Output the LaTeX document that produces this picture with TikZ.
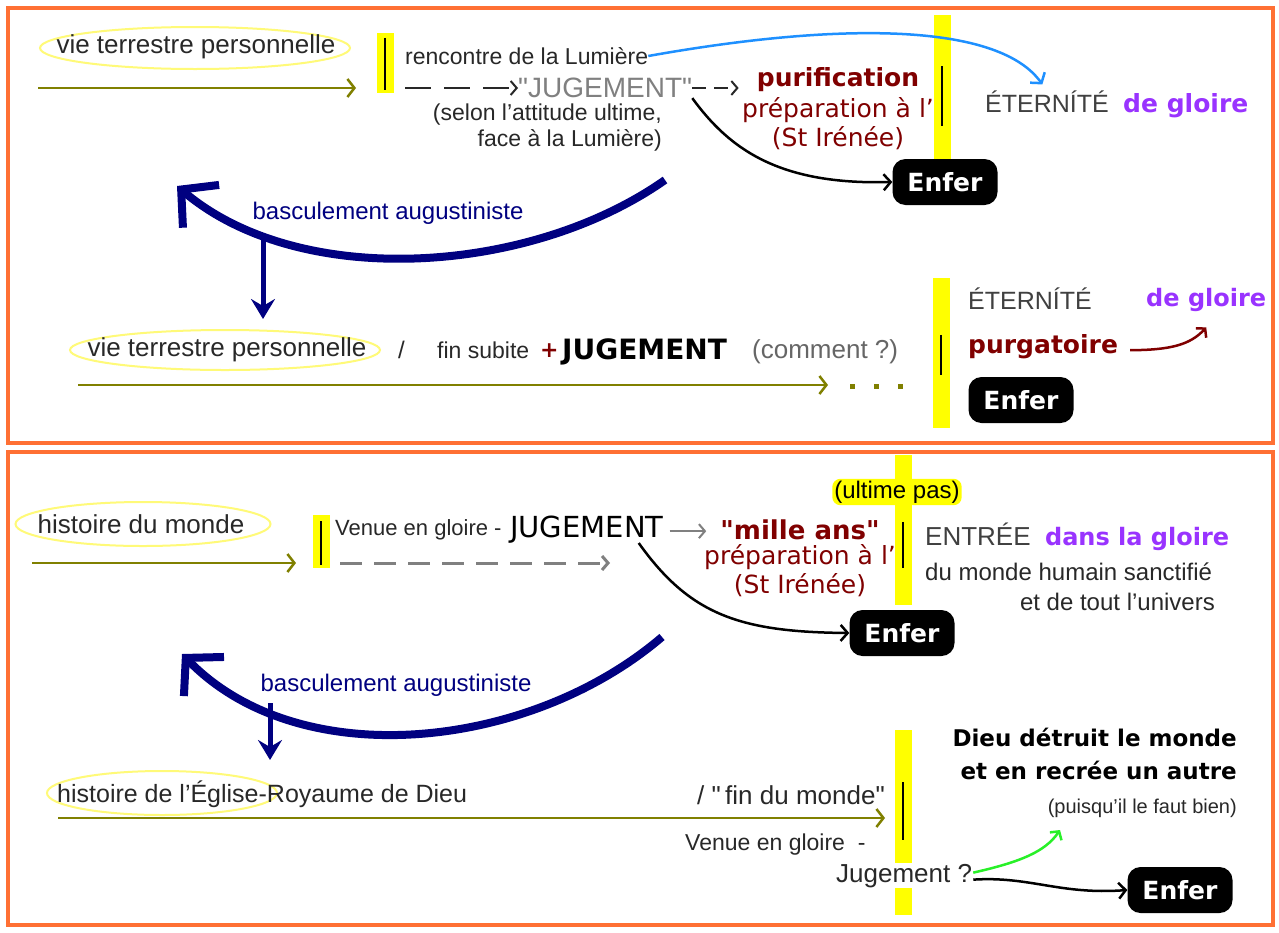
\documentclass[tikz,border=0pt]{standalone}
\usepackage{fontspec}
\usepackage{xcolor}
\usepackage{tikz}
\usetikzlibrary{positioning,arrows.meta,shapes.geometric}
\setmainfont{Liberation Sans}
\newfontfamily\verdana{DejaVu Sans}
\newfontfamily\plainquote{Liberation Sans}
\definecolor{frameOrange}{RGB}{255,112,52}
\definecolor{markYellow}{RGB}{255,255,0}
\definecolor{haloYellow}{RGB}{255,250,120}
\definecolor{lineOlive}{RGB}{128,128,0}
\definecolor{basculeNavy}{RGB}{0,0,128}
\definecolor{purifRed}{RGB}{128,0,0}
\definecolor{gloirePurple}{RGB}{153,51,255}
\definecolor{lumiereBlue}{RGB}{30,144,255}
\definecolor{recreeGreen}{RGB}{40,240,40}
\definecolor{textGray}{RGB}{40,40,40}
\definecolor{jugeGray}{RGB}{128,128,128}
\newcommand{\pxsize}[2]{\fontsize{#1}{#2}\selectfont}
\newcommand{\dq}{{\plainquote"}}

\begin{document}
\begin{tikzpicture}[x=1pt, y=-1pt]
    % Define styles
    \tikzstyle{words} = [inner sep=0pt, text=textGray, font=\pxsize{23}{27}]
    \tikzstyle{verd} = [inner sep=0pt, font=\verdana\pxsize{25}{29}]
    \tikzstyle{halo} = [ellipse, draw=haloYellow, line width=2pt, inner sep=0pt]
    \tikzstyle{bar} = [rectangle, fill=markYellow, inner sep=0pt, minimum width=17pt]
    \tikzstyle{enfer} = [rectangle, rounded corners=13pt, fill=black, text=white, font=\verdana\bfseries\pxsize{25}{29}, minimum width=105pt, minimum height=46pt, inner sep=0pt]
    \tikzstyle{panel} = [draw=frameOrange, line width=4.5pt]
    \tikzstyle{cut} = [draw=black, line width=2pt]
    \tikzstyle{timeline} = [draw=lineOlive, line width=2.5pt, -{Straight Barb[length=7pt,width=18pt]}]
    \tikzstyle{bascule} = [draw=basculeNavy, line width=8pt, -{Straight Barb[length=26pt,width=56pt]}]
    \tikzstyle{drop} = [draw=basculeNavy, line width=5pt, -{Stealth[length=20pt,width=24pt,inset=7pt]}]
    \tikzstyle{dasharrow} = [draw=textGray, line width=2pt, dash pattern=on 26pt off 13pt, -{Straight Barb[length=6pt,width=14pt]}]
    \tikzstyle{toEnfer} = [draw=black, line width=2.5pt, -{Straight Barb[length=7pt,width=16pt]}]

    \fill[white] (0,0) rectangle (1279,932);
    \useasboundingbox (0,0) rectangle (1279,932);
    \draw[panel] (8,8) rectangle (1273,443);
    \draw[panel] (8,452) rectangle (1273,925);

    % Top panel, first line
    \node[halo, minimum width=310pt, minimum height=42pt] (halo1) at (195,48) {};
    \node[words, font=\pxsize{26}{30}] (vie1) at (196,47) {vie terrestre personnelle};
    \node[bar, minimum height=60pt] (bar1) at (385,63) {};
    \draw[cut] ([yshift=-5pt]bar1.north) -- ([yshift=3pt]bar1.south);
    \coordinate (life1) at (38,88);
    \coordinate (life1end) at (356,88);
    \draw[timeline] (life1) -- (life1end);
    \node[words, anchor=west] (lumiere1) at (405,56) {rencontre de la Lumière};
    \coordinate (dash1) at (405,88);
    \node[words, anchor=west, text=jugeGray, font=\pxsize{28}{30}] (juge1) at (518,88) {\dq JUGEMENT\dq};
    \draw[dasharrow] (dash1) -- (juge1.west);
    \node[words, align=right, anchor=north east, font=\pxsize{23}{26}] (attitude1) at (662,104) {(selon l’attitude ultime,\\face à la Lumière)};
    \node[verd, text=purifRed, font=\verdana\bfseries\pxsize{25}{29}] (purif1) at (838,80) {purification};
    \node[verd, text=purifRed, below=5pt of purif1] (prep1) {préparation à l’};
    \node[verd, text=purifRed, below=3pt of prep1] (irenee1) {(St Irénée)};
    \draw[dasharrow, dash pattern=on 14pt off 8pt, shorten >=18pt] (juge1.east) -- (juge1.east -| purif1.west);
    \node[bar, minimum height=173pt] (bar2) at (942,101) {};
    \draw[cut] ([yshift=-52pt]bar2.north) -- ([yshift=62pt]bar2.south);
    \node[words, anchor=west, text=black!75, font=\pxsize{25}{29}] (eternite1) at (985,102) {ÉTERNÍTÉ};
    \node[verd, base right=14pt of eternite1, text=gloirePurple, font=\verdana\bfseries\pxsize{25}{29}] (gloire1) {de gloire};
    \draw[draw=lumiereBlue, line width=2.5pt, -{Straight Barb[length=7pt,width=18pt]}, shorten >=8pt] (lumiere1.east) .. controls (850,20) and (1000,25) .. (eternite1.north);
    \node[enfer] (enfer1) at (945,182) {Enfer};
    \draw[toEnfer] (juge1.south east) .. controls (730,150) and (780,185) .. (enfer1.west);

    % Augustinian shift, top
    \coordinate (tilt1) at (665,180);
    \coordinate (tilt1end) at (177,186);
    \draw[bascule] (tilt1) .. controls (530,275) and (300,290) .. (tilt1end);
    \node[words, text=basculeNavy, font=\pxsize{24}{28}] (bascule1) at (388,213) {basculement augustiniste};

    % Top panel, second line
    \node[halo, minimum width=310pt, minimum height=40pt] (halo2) at (225,350) {};
    \node[words, font=\pxsize{26}{30}] (vie2) at (227,350) {vie terrestre personnelle};
    \coordinate (drop1) at (263,240);
    \draw[drop, shorten >=10pt] (drop1) -- (drop1 |- halo2.north);
    \node[words, anchor=base west, font=\pxsize{24}{28}] (slash2) at (398,358) {/};
    \node[words, anchor=base west] (subite2) at (437,358) {fin subite};
    \node[verd, anchor=base west, text=purifRed, font=\verdana\bfseries\pxsize{22}{26}] (plus2) at (540,357) {+};
    \node[verd, anchor=base west, text=black, font=\verdana\bfseries\pxsize{28}{30}] (juge2) at (562,359) {JUGEMENT};
    \node[words, anchor=base west, text=black!60, font=\pxsize{26}{28}] (comment2) at (752,358) {(comment ?)};
    \coordinate (life2) at (78,385);
    \coordinate (life2end) at (828,385);
    \draw[timeline] (life2) -- (life2end);
    \draw[lineOlive, line width=5pt, dash pattern=on 5pt off 19pt] (850,386) -- (905,386);
    \node[bar, minimum height=150pt] (bar3) at (941,353) {};
    \draw[cut] ([yshift=-57pt]bar3.north) -- ([yshift=53pt]bar3.south);
    \node[words, anchor=base west, text=black!75, font=\pxsize{25}{29}] (eternite2) at (968,309) {ÉTERNÍTÉ};
    \node[verd, anchor=base west, text=gloirePurple, font=\verdana\bfseries\pxsize{24}{28}] (gloire2) at (1146,306) {de gloire};
    \node[verd, anchor=base west, text=purifRed, font=\verdana\bfseries\pxsize{25}{29}] (purg2) at (968,353) {purgatoire};
    \draw[draw=purifRed, line width=2.5pt, -{Straight Barb[length=6pt,width=14pt]}] ([xshift=12pt,yshift=-4pt]purg2.east) .. controls (1170,350) and (1190,345) .. ([yshift=-16pt]gloire2.south);
    \node[enfer] (enfer2) at (1021,400) {Enfer};

    % Bottom panel, first line
    \node[halo, minimum width=255pt, minimum height=44pt] (halo3) at (143,524) {};
    \node[words, font=\pxsize{26}{30}] (monde3) at (141,524) {histoire du monde};
    \coordinate (hist3) at (32,563);
    \coordinate (hist3end) at (296,563);
    \draw[timeline] (hist3) -- (hist3end);
    \node[bar, minimum height=53pt] (bar4) at (321,541) {};
    \draw[cut] ([yshift=-7pt]bar4.north) -- ([yshift=3pt]bar4.south);
    \node[words, anchor=base west, font=\pxsize{22}{26}] (venue3) at (335,535) {Venue en gloire -};
    \node[verd, anchor=base west, text=black, font=\verdana\pxsize{29}{32}] (juge3) at (510,537) {JUGEMENT};
    \coordinate (dash3) at (340,563);
    \coordinate (dash3end) at (610,563);
    \draw[dasharrow, draw=jugeGray, line width=3pt, dash pattern=on 22pt off 12pt] (dash3) -- (dash3end);
    \node[verd, text=purifRed, font=\verdana\bfseries\pxsize{26}{30}] (mille3) at (800,530) {"mille ans"};
    \draw[dasharrow, draw=jugeGray, dash pattern=, shorten >=14pt] ([xshift=6pt,yshift=-2pt]juge3.east) -- ([yshift=-2pt]juge3.east -| mille3.west);
    \node[verd, text=purifRed, below=4pt of mille3] (prep3) {préparation à l’};
    \node[verd, text=purifRed, below=3pt of prep3] (irenee3) {(St Irénée)};
    \node[bar, minimum height=150pt] (bar5) at (903,530) {};
    \node[words, text=black, fill=markYellow, rounded corners=8pt, inner sep=2pt, font=\pxsize{24}{28}] (ultime5) at (897,492) {(ultime pas)};
    \draw[cut] ([yshift=-67pt]bar5.north) -- ([yshift=37pt]bar5.south);
    \node[words, anchor=base west, text=black!75, font=\pxsize{26}{30}] (entree5) at (925,545) {ENTRÉE};
    \node[verd, base right=14pt of entree5, text=gloirePurple, font=\verdana\bfseries\pxsize{24}{28}] (gloire5) {dans la gloire};
    \node[words, anchor=base west, font=\pxsize{24}{28}] (sanctifie5) at (925,580) {du monde humain sanctifié};
    \node[words, anchor=base east, font=\pxsize{24}{28}] (univers5) at (1215,610) {et de tout l’univers};
    \node[enfer] (enfer3) at (902,633) {Enfer};
    \draw[toEnfer] ([xshift=-25pt]juge3.south east) .. controls (690,615) and (740,632) .. (enfer3.west);

    % Augustinian shift, bottom
    \coordinate (tilt3) at (662,637);
    \coordinate (tilt3end) at (182,654);
    \draw[bascule] (tilt3) .. controls (530,750) and (300,775) .. (tilt3end);
    \node[words, text=basculeNavy, font=\pxsize{24}{28}] (bascule3) at (396,685) {basculement augustiniste};

    % Bottom panel, second line
    \node[halo, minimum width=230pt, minimum height=44pt] (eglise6) at (162,793) {};
    \coordinate (drop3) at (270,703);
    \draw[drop, shorten >=10pt] (drop3) -- (drop3 |- eglise6.north);
    \node[words, anchor=base west, font=\pxsize{25}{29}] (royaume6) at (57,802) {histoire de l’Église-Royaume de Dieu};
    \coordinate (hist6) at (58,818);
    \coordinate (hist6end) at (885,818);
    \draw[timeline] (hist6) -- (hist6end);
    \node[words, anchor=base east, font=\pxsize{26}{30}] (fin6) at (885,804) {/ \dq\,fin du monde\dq};
    \node[bar, minimum height=185pt] (bar6) at (903,822) {};
    \draw[cut] ([yshift=-53pt]bar6.north) -- ([yshift=75pt]bar6.south);
    \node[words, anchor=base west, font=\pxsize{23}{27}] (venue6) at (685,850) {Venue en gloire \ -};
    \node[words, anchor=base west, fill=white, inner sep=1pt, font=\pxsize{26}{30}] (jugement6) at (835,882) {Jugement ?};
    \node[verd, anchor=north east, align=right, text=black, font=\verdana\bfseries\pxsize{23}{33}] (detruit6) at (1237,728) {Dieu détruit le monde\\et en recrée un autre};
    \node[words, anchor=base east, font=\pxsize{20}{24}] (puisque6) at (1237,813) {(puisqu’il le faut bien)};
    \coordinate (recree6) at (1060,830);
    \draw[draw=recreeGreen, line width=2.5pt, -{Straight Barb[length=6pt,width=14pt]}] ([yshift=3pt]jugement6.east) .. controls (1020,862) and (1045,852) .. (recree6);
    \node[enfer] (enfer6) at (1180,890) {Enfer};
    \draw[toEnfer] ([yshift=-4pt]jugement6.east) .. controls (1030,876) and (1060,895) .. (enfer6.west);
\end{tikzpicture}
\end{document}
